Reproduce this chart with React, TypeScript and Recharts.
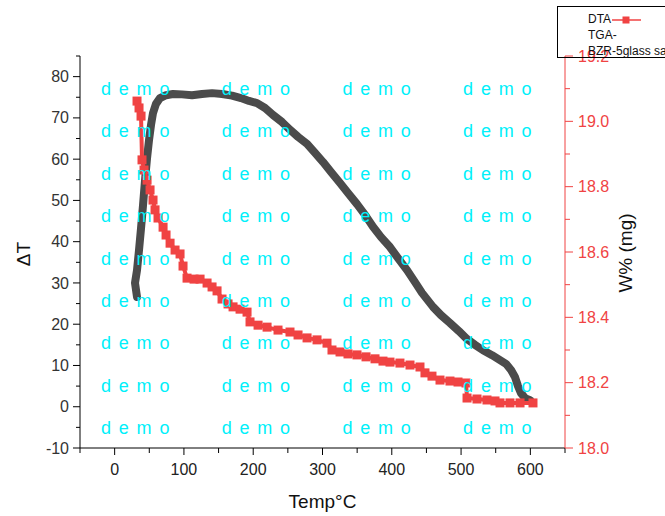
import { LineChart, Line, XAxis, YAxis } from "recharts";

// DTA curve (left axis, ΔT)
const dtaTemp = [
  32.3, 29.4, 32.3, 35.2, 38.1, 41.0, 43.9, 46.8, 49.6, 52.5, 55.4, 59.7, 65.5,
  74.2, 84.3, 97.3, 111.7, 126.1, 140.6, 155.0, 169.4, 182.4, 194.0, 205.5,
  217.1, 228.6, 241.6, 253.2, 264.7, 277.7, 289.2, 300.8, 312.3, 325.3, 336.8,
  349.8, 361.4, 372.9, 384.5, 397.4, 409.0, 422.0, 433.5, 443.6, 459.5, 471.0,
  484.0, 497.0, 508.6, 520.1, 531.7, 544.7, 556.2, 564.8, 572.1, 577.8, 582.2,
  586.5, 592.3, 599.5,
];
const dtaDelta = [
  26.6, 30.0, 33.1, 38.0, 43.3, 48.9, 55.0, 60.3, 64.6, 68.3, 71.2, 73.4, 74.8,
  75.5, 75.8, 75.7, 75.5, 75.8, 76.0, 75.8, 75.4, 74.8, 74.1, 73.6, 72.4, 70.7,
  69.0, 67.1, 65.4, 63.7, 61.5, 59.3, 56.9, 54.2, 51.8, 49.1, 46.5, 43.6, 41.1,
  38.7, 36.0, 33.1, 30.2, 27.6, 24.2, 22.2, 20.3, 18.3, 16.4, 15.0, 13.7, 12.5,
  11.3, 10.4, 8.9, 7.2, 5.0, 3.3, 2.1, 1.6,
];

// TGA curve (right axis, W%)
const tgaTemp = [
  32.3, 35.2, 38.1, 39.5, 42.4, 46.8, 51.1, 55.4, 58.3, 62.6, 69.9, 74.2, 80.0,
  87.2, 94.4, 98.7, 104.5, 114.6, 123.3, 133.4, 140.6, 147.8, 155.0, 163.7,
  170.9, 181.0, 191.1, 195.4, 207.0, 220.0, 235.8, 253.1, 264.7, 277.7, 292.1,
  306.5, 313.7, 325.3, 336.8, 349.8, 362.8, 375.8, 387.3, 397.4, 411.8, 426.3,
  440.7, 447.9, 458.0, 469.6, 484.0, 495.6, 507.1, 508.6, 523.0, 537.4, 549.0,
  556.2, 570.6, 585.1, 603.8,
];
const tgaWeight = [
  19.062, 19.041, 19.016, 18.882, 18.851, 18.82, 18.79, 18.759, 18.729, 18.704,
  18.676, 18.652, 18.627, 18.606, 18.594, 18.557, 18.52, 18.517, 18.517, 18.505,
  18.493, 18.481, 18.456, 18.441, 18.432, 18.425, 18.416, 18.386, 18.376, 18.37,
  18.361, 18.355, 18.346, 18.337, 18.331, 18.321, 18.3, 18.294, 18.288, 18.285,
  18.279, 18.273, 18.266, 18.263, 18.26, 18.254, 18.248, 18.23, 18.22, 18.208,
  18.205, 18.202, 18.199, 18.153, 18.15, 18.147, 18.144, 18.138, 18.138, 18.138,
  18.138,
];

const tempTicks = [-50, 0, 50, 100, 150, 200, 250, 300, 350, 400, 450, 500, 550, 600, 650];
const deltaTicks = [-10, -5, 0, 5, 10, 15, 20, 25, 30, 35, 40, 45, 50, 55, 60, 65, 70, 75, 80, 85];
const weightTicks = [18.0, 18.1, 18.2, 18.3, 18.4, 18.5, 18.6, 18.7, 18.8, 18.9, 19.0, 19.1, 19.2];

const RED = "#f04343";
const DARK = "#4b4b4b";
const FONT = '"Liberation Sans", Arial, sans-serif';

const dtaData = dtaTemp.map((t, i) => ({ t, v: dtaDelta[i] }));
const tgaData = tgaTemp.map((t, i) => ({ t, w: tgaWeight[i] }));

const BottomTick = ({ x, y, payload }: any) => {
  const v = payload.value;
  const major = v % 100 === 0;
  return (
    <g>
      <line x1={x} x2={x} y1={y} y2={y + (major ? 7 : 5)} stroke="#000" />
      {major && v >= 0 && v <= 600 && (
        <text x={x} y={y + 21} dy="0.35em" textAnchor="middle" fontSize={16} fill="#222" fontFamily={FONT}>
          {v}
        </text>
      )}
    </g>
  );
};

const TopTick = ({ x, y }: any) => (
  <line x1={x} x2={x} y1={y} y2={y + 7} stroke="#000" />
);

const LeftTick = ({ x, y, payload }: any) => {
  const v = payload.value;
  const major = v % 10 === 0;
  return (
    <g>
      <line x1={x} x2={x - (major ? 7 : 4)} y1={y} y2={y} stroke="#000" />
      {major && (
        <text x={x - 11} y={y} dy="0.35em" textAnchor="end" fontSize={16} fill="#333" fontFamily={FONT}>
          {v}
        </text>
      )}
    </g>
  );
};

const RightTick = ({ x, y, payload }: any) => {
  const v = payload.value;
  const major = Math.round(v * 10) % 2 === 0;
  return (
    <g>
      <line x1={x} x2={x + (major ? 8 : 5)} y1={y} y2={y} stroke={RED} />
      {major && (
        <text x={x + 13} y={y} dy="0.35em" textAnchor="start" fontSize={16} fill={RED} fontFamily={FONT}>
          {v.toFixed(1)}
        </text>
      )}
    </g>
  );
};

const SquareDot = (props: any) => {
  const { cx, cy, index } = props;
  return <rect key={index} x={cx - 4.5} y={cy - 4.5} width={9} height={9} fill={RED} />;
};

const Watermark = () => {
  const items = [];
  for (let r = 0; r < 9; r++) {
    for (let c = 0; c < 4; c++) {
      items.push(
        <div
          key={`${r}-${c}`}
          style={{
            position: "absolute",
            left: 101 + c * 120.7,
            top: 89 + r * 42.4 - 10,
            lineHeight: "20px",
            fontSize: 18,
            letterSpacing: 1.4,
            color: "#00f0fa",
            whiteSpace: "pre",
          }}
        >
          d e m o
        </div>
      );
    }
  }
  return <>{items}</>;
};

export default function App() {
  return (
    <div
      style={{
        position: "absolute",
        left: 0,
        top: 0,
        width: 665,
        height: 516,
        overflow: "hidden",
        background: "#fff",
        fontFamily: FONT,
      }}
    >
      <LineChart width={665} height={516} margin={{ top: 56, right: 40, bottom: 38, left: 20 }}>
        <XAxis
          dataKey="t"
          type="number"
          domain={[-50, 650]}
          ticks={tempTicks}
          interval={0}
          height={30}
          stroke="#000"
          tickLine={false}
          tickSize={0}
          tickMargin={0}
          tick={<BottomTick />}
        />
        <XAxis
          xAxisId="top"
          orientation="top"
          type="number"
          domain={[-50, 650]}
          ticks={tempTicks}
          interval={0}
          height={0}
          stroke="#000"
          tickLine={false}
          tickSize={0}
          tickMargin={0}
          tick={<TopTick />}
        />
        <YAxis
          yAxisId="left"
          type="number"
          domain={[-10, 85]}
          ticks={deltaTicks}
          interval={0}
          width={60}
          stroke="#000"
          tickLine={false}
          tickSize={0}
          tickMargin={0}
          tick={<LeftTick />}
        />
        <YAxis
          yAxisId="right"
          orientation="right"
          type="number"
          domain={[18, 19.2]}
          ticks={weightTicks}
          interval={0}
          width={60}
          stroke={RED}
          tickLine={false}
          tickSize={0}
          tickMargin={0}
          tick={<RightTick />}
        />
        <Line
          yAxisId="left"
          data={dtaData}
          dataKey="v"
          type="linear"
          stroke={DARK}
          strokeWidth={8}
          strokeLinecap="round"
          strokeLinejoin="round"
          dot={false}
          isAnimationActive={false}
        />
        <Line
          yAxisId="right"
          data={tgaData}
          dataKey="w"
          type="linear"
          stroke={RED}
          strokeWidth={4}
          dot={SquareDot}
          isAnimationActive={false}
        />
      </LineChart>

      <Watermark />

      <div style={{ position: "absolute", left: 0, top: 491, width: 645, textAlign: "center", fontSize: 19, color: "#111" }}>
        Temp°C
      </div>
      <div
        style={{
          position: "absolute",
          left: 24,
          top: 254,
          transform: "translate(-50%, -50%) rotate(-90deg)",
          fontSize: 19,
          color: "#111",
          whiteSpace: "nowrap",
        }}
      >
        ΔT
      </div>
      <div
        style={{
          position: "absolute",
          left: 626,
          top: 253,
          transform: "translate(-50%, -50%) rotate(-90deg)",
          fontSize: 19,
          color: "#111",
          whiteSpace: "nowrap",
        }}
      >
        W% (mg)
      </div>

      <div
        style={{
          position: "absolute",
          left: 557,
          top: 6,
          width: 140,
          height: 50,
          border: "1px solid #000",
          fontSize: 12,
          color: "#111",
        }}
      >
        <div style={{ position: "absolute", left: 30, top: 4, lineHeight: "16px", whiteSpace: "nowrap" }}>
          DTA
          <svg width={32} height={10} style={{ verticalAlign: "middle", marginLeft: 0 }}>
            <line x1={1} x2={30} y1={5} y2={5} stroke={RED} strokeWidth={1.5} />
            <rect x={11.5} y={1.5} width={7} height={7} fill={RED} />
          </svg>
        </div>
        <div style={{ position: "absolute", left: 30, top: 20, lineHeight: "16px", whiteSpace: "nowrap" }}>TGA-</div>
        <div style={{ position: "absolute", left: 30, top: 36, lineHeight: "16px", whiteSpace: "nowrap" }}>
          BZR-5glass sample
        </div>
      </div>
    </div>
  );
}
